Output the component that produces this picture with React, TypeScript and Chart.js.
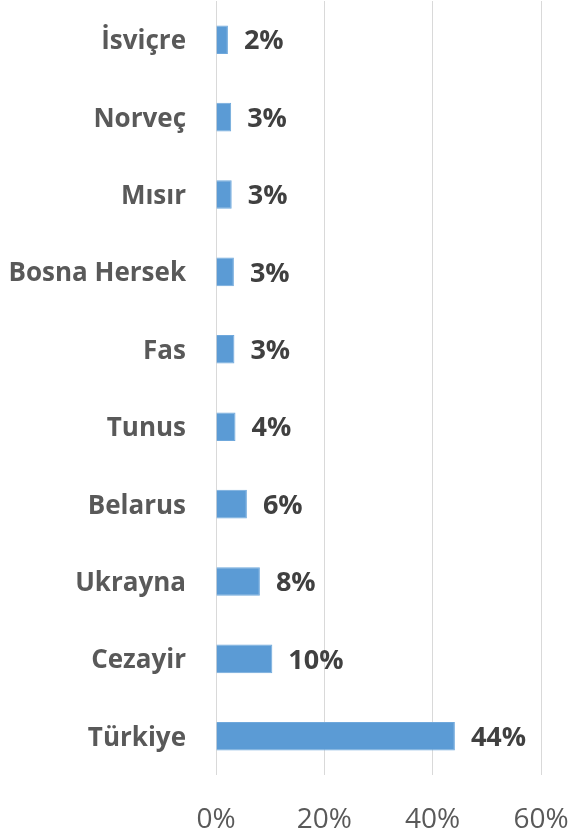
import React, { useEffect, useRef } from "react";
import { Chart, registerables } from "chart.js";

Chart.register(...registerables);

const categories = ["İsviçre", "Norveç", "Mısır", "Bosna Hersek", "Fas", "Tunus", "Belarus", "Ukrayna", "Cezayir", "Türkiye"];
const shares = [2.2, 2.8, 2.9, 3.3, 3.4, 3.6, 5.7, 8.1, 10.4, 44.1];
const shareLabels = ["2%", "3%", "3%", "3%", "3%", "4%", "6%", "8%", "10%", "44%"];
const xTicks = [0, 20, 40, 60];

const FONT = "'Open Sans', 'DejaVu Sans', sans-serif";

const valueLabelPlugin = {
  id: "valueLabels",
  afterDatasetsDraw(chart: any) {
    const ctx = chart.ctx;
    const meta = chart.getDatasetMeta(0);
    ctx.save();
    ctx.font = `bold 27px ${FONT}`;
    ctx.fillStyle = "#404040";
    ctx.textAlign = "left";
    ctx.textBaseline = "middle";
    meta.data.forEach((bar: any, i: number) => {
      ctx.fillText(shareLabels[i], bar.x + 16, bar.y + 2);
    });
    ctx.restore();
  },
};

export default function App() {
  const ref = useRef<HTMLCanvasElement>(null);
  useEffect(() => {
    if (!ref.current) return;
    const chart = new Chart(ref.current, {
      type: "bar",
      data: {
        labels: categories,
        datasets: [
          {
            data: shares,
            backgroundColor: "#5B9BD5",
            borderColor: "#6FA8DC",
            borderWidth: 1,
            categoryPercentage: 1,
            barPercentage: 0.37,
          },
        ],
      },
      options: {
        indexAxis: "y",
        animation: false,
        responsive: false,
        layout: { padding: { top: 1, right: 33, left: 0, bottom: 0 } },
        plugins: { legend: { display: false }, tooltip: { enabled: false } },
        scales: {
          x: {
            min: 0,
            max: 60,
            afterBuildTicks: (scale: any) => {
              scale.ticks = xTicks.map((v) => ({ value: v }));
            },
            afterFit: (scale: any) => {
              scale.height = 63;
              scale.paddingLeft = 0;
              scale.paddingRight = 0;
            },
            ticks: {
              callback: (v: any) => v + "%",
              color: "#595959",
              font: { family: FONT, size: 28 },
              padding: 28,
              maxRotation: 0,
            },
            grid: { color: "#d9d9d9", lineWidth: 1, drawTicks: false },
            border: { display: false },
          },
          y: {
            afterFit: (scale: any) => {
              scale.width = 216;
              scale.paddingTop = 0;
              scale.paddingBottom = 0;
            },
            ticks: {
              color: "#595959",
              font: { family: FONT, size: 26, weight: "bold" },
              padding: 30,
              labelOffset: 2,
            },
            grid: { display: false, drawTicks: false },
            border: { display: false },
          },
        },
      },
      plugins: [valueLabelPlugin],
    });
    return () => chart.destroy();
  }, []);
  return (
    <div style={{ position: "absolute", left: 0, top: 0, width: 574, height: 838, background: "#fff" }}>
      <canvas ref={ref} width={574} height={838} />
    </div>
  );
}
